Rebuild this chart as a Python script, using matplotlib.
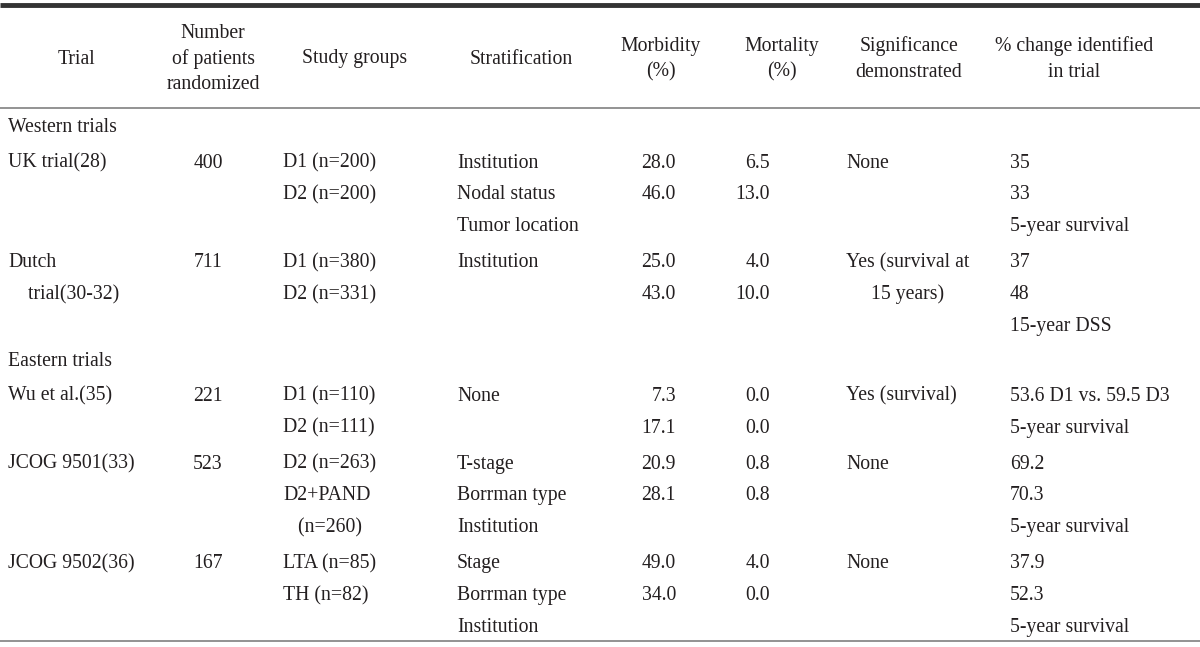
import matplotlib.pyplot as plt

plt.rcParams['font.family'] = ['Liberation Serif', 'DejaVu Serif']

headers = ['Trial', 'Number\nof patients\nrandomized', 'Study groups', 'Stratification',
           'Morbidity\n(%)', 'Mortality\n(%)', 'Significance\ndemonstrated',
           '% change identified\nin trial']
sections = ['Western trials', 'Eastern trials']
trial_section = [0, 0, 1, 1, 1]
trial_names = [['UK trial(28)'], ['Dutch', '    trial(30-32)'], ['Wu et al.(35)'],
               ['JCOG 9501(33)'], ['JCOG 9502(36)']]
patients = ['400', '711', '221', '523', '167']
study_groups = [['D1 (n=200)', 'D2 (n=200)'], ['D1 (n=380)', 'D2 (n=331)'],
                ['D1 (n=110)', 'D2 (n=111)'], ['D2 (n=263)', 'D2+PAND', '   (n=260)'],
                ['LTA (n=85)', 'TH (n=82)']]
stratification = [['Institution', 'Nodal status', 'Tumor location'], ['Institution'], ['None'],
                  ['T-stage', 'Borrman type', 'Institution'],
                  ['Stage', 'Borrman type', 'Institution']]
morbidity = [['28.0', '46.0'], ['25.0', '43.0'], ['7.3', '17.1'], ['20.9', '28.1'], ['49.0', '34.0']]
mortality = [['6.5', '13.0'], ['4.0', '10.0'], ['0.0', '0.0'], ['0.8', '0.8'], ['4.0', '0.0']]
significance = [['None'], ['Yes (survival at', '     15 years)'], ['Yes (survival)'], ['None'], ['None']]
change = [['35', '33', '5-year survival'], ['37', '48', '15-year DSS'],
          ['53.6 D1 vs. 59.5 D3', '5-year survival'], ['69.2', '70.3', '5-year survival'],
          ['37.9', '52.3', '5-year survival']]

fig = plt.figure(figsize=(12, 6.47), dpi=100)
ax = fig.add_axes([0, 0, 1, 1])
ax.set_xlim(0, 1200)
ax.set_ylim(647, 0)
ax.axis('off')

fs = 14.2
col = '#231f20'

# header
hx = [77, 213, 355, 521, 661, 782, 909, 1074]
for x, h in zip(hx, headers):
    ax.text(x, 59, h, ha='center', va='center', fontsize=fs, color=col, linespacing=1.45)

ax.plot([0, 1200], [5, 5], color='#333333', lw=3.5, solid_capstyle='butt')
ax.plot([0, 1200], [107.5, 107.5], color='#808080', lw=1.2)
ax.plot([0, 1200], [641, 641], color='#808080', lw=1.2)

# columns: (data, x, ha)
cols = [(trial_names, 8, 'left'), (study_groups, 283, 'left'), (stratification, 457, 'left'),
        (morbidity, 676, 'right'), (mortality, 770, 'right'), (significance, 846, 'left'),
        (change, 1010, 'left')]

step = 31.8
y = 128
last_sec = -1
for i in range(len(patients)):
    if trial_section[i] != last_sec:
        if last_sec >= 0:
            y += 35
        ax.text(8, y, sections[trial_section[i]], ha='left', va='center', fontsize=fs, color=col)
        last_sec = trial_section[i]
        y += 35
    else:
        y += 36
    ax.text(208, y, patients[i], ha='center', va='center', fontsize=fs, color=col)
    nlines = 1
    for data, x, ha in cols:
        for k, s in enumerate(data[i]):
            ax.text(x, y + k * step, s, ha=ha, va='center', fontsize=fs, color=col)
        nlines = max(nlines, len(data[i]))
    y += (nlines - 1) * step

fig.savefig('out.png', dpi=100)
